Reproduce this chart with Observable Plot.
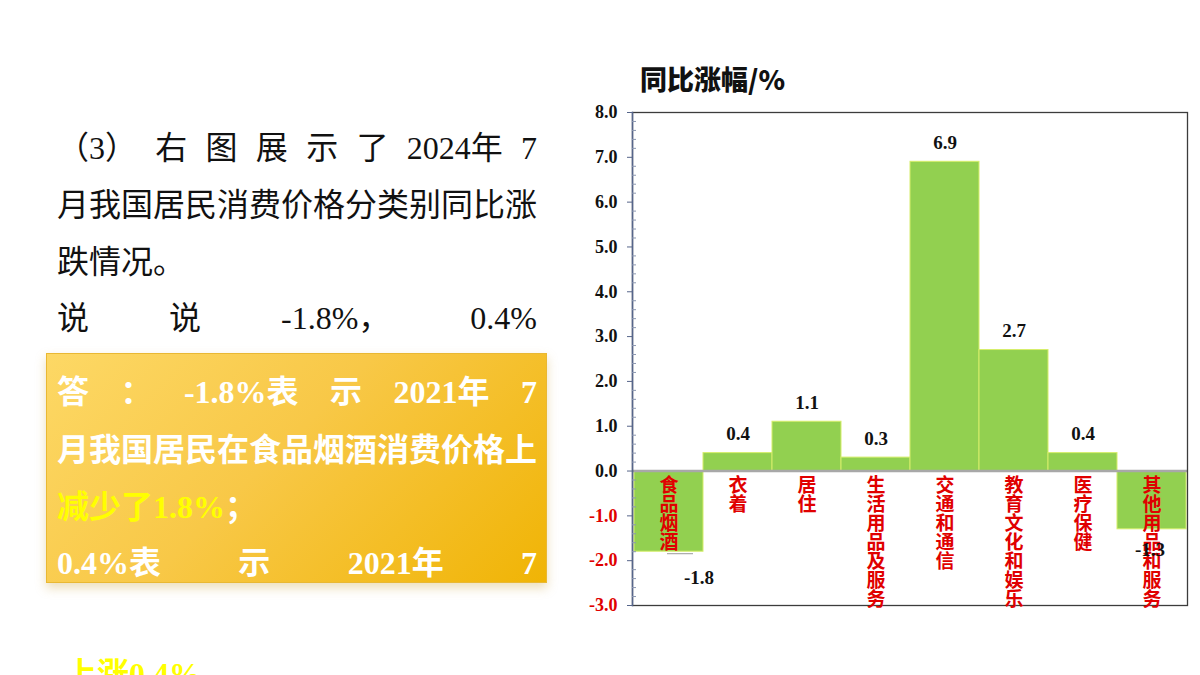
<!DOCTYPE html>
<html>
<head>
<meta charset="utf-8">
<script src="https://cdn.jsdelivr.net/npm/d3@7"></script>
<script src="https://cdn.jsdelivr.net/npm/@observablehq/plot@0.6"></script>
<style>
  html, body {
    margin: 0; padding: 0; background: #fff;
    width: 1200px; height: 675px; overflow: hidden; position: relative;
    font-family: "Liberation Serif", "Noto Sans CJK SC", serif;
  }
  .line {
    position: absolute; left: 57px; width: 480px;
    font-size: 32px; line-height: 40px; white-space: nowrap; color: #111;
  }
  .j { display: flex; justify-content: space-between; }
  .box {
    position: absolute; left: 46px; top: 353px; width: 501px; height: 230px;
    background: linear-gradient(135deg, #fdd865 0%, #f8c847 45%, #f0b405 100%);
    border: 1px solid #e9b833; box-sizing: border-box;
    box-shadow: 0 5px 10px rgba(200, 160, 60, 0.35);
  }
  .ans { color: #fff; font-weight: bold; }
  .hl { color: #ffff00; font-weight: bold; }
  #title {
    position: absolute; left: 640px; top: 61px;
    font-family: "Noto Sans CJK SC", sans-serif; font-weight: 900;
    font-size: 27px; line-height: 36px; color: #111;
  }
  #chart { position: absolute; left: 560px; top: 95px; }
</style>
</head>
<body>
  <div class="line j" style="top:128px"><span>（3）</span><span>右</span><span>图</span><span>展</span><span>示</span><span>了</span><span>2024年</span><span>7</span></div>
  <div class="line" style="top:185px">月我国居民消费价格分类别同比涨</div>
  <div class="line" style="top:242px">跌情况。</div>
  <div class="line j" style="top:298px"><span>说</span><span>说</span><span>-1.8%，</span><span>0.4%</span></div>

  <div class="box"></div>
  <div class="line j ans" style="top:372px"><span>答</span><span>：</span><span>-1.8%表</span><span>示</span><span>2021年</span><span>7</span></div>
  <div class="line ans" style="top:430px">月我国居民在食品烟酒消费价格上</div>
  <div class="line ans" style="top:487px"><span class="hl">减少了1.8%</span>；</div>
  <div class="line j ans" style="top:543px"><span>0.4%表</span><span>示</span><span>2021年</span><span>7</span></div>
  <div class="line hl" style="top:654px; left:65px">上涨0.4%</div>

  <div id="title">同比涨幅/%</div>
  <div id="chart"></div>

<script>
// CPI year-on-year change by category, July 2024 (%)
const categories = ["食品烟酒", "衣着", "居住", "生活用品及服务", "交通和通信", "教育文化和娱乐", "医疗保健", "其他用品和服务"];
const values = [-1.8, 0.4, 1.1, 0.3, 6.9, 2.7, 0.4, -1.3];
const yTicks = [-3, -2, -1, 0, 1, 2, 3, 4, 5, 6, 7, 8];

const data = categories.map((cat, i) => ({cat, value: values[i]}));
const minorTicks = d3.range(-3, 8.001, 0.2).filter(t => Math.abs(t - Math.round(t)) > 1e-6);

const serifBold = {fontFamily: "'Liberation Serif', serif", fontWeight: "bold"};

const chart = Plot.plot({
  width: 640,
  height: 540,
  marginLeft: 72,
  marginRight: 13,
  marginTop: 17,
  marginBottom: 30,
  style: {background: "transparent", overflow: "visible", fontFamily: "'Liberation Serif', serif"},
  x: {type: "band", domain: categories, padding: 0, axis: null},
  y: {domain: [-3, 8], axis: null},
  marks: [
    Plot.barY(data, {x: "cat", y: "value", fill: "#92D050", stroke: "#d6ee6a", strokeWidth: 1}),
    Plot.ruleY([0], {stroke: "#a8a8a8", strokeWidth: 2.5}),
    Plot.frame({stroke: "#3c3c3c", strokeWidth: 1.3}),
    Plot.frame({anchor: "left", stroke: "#56658a", strokeWidth: 1.5}),
    // minor ticks pointing into the plot
    Plot.axisY(minorTicks, {tickSize: 4, dx: 4, tickFormat: () => "", label: null, stroke: "#8a96b0"}),
    // major ticks and labels
    Plot.axisY(yTicks.filter(t => t >= 0), {
      tickSize: 5, tickPadding: 10, tickFormat: t => t.toFixed(1), label: null,
      fontSize: 18, ...serifBold, fill: "#111", stroke: "#56658a"
    }),
    Plot.axisY(yTicks.filter(t => t < 0), {
      tickSize: 5, tickPadding: 10, tickFormat: t => t.toFixed(1), label: null,
      fontSize: 18, ...serifBold, fill: "#e00000", stroke: "#56658a"
    }),
    // vertical category names under the zero line
    Plot.text(data, {
      x: "cat", y: () => 0, text: d => [...d.cat].join("\n"),
      lineAnchor: "top", dy: 7, fontSize: 19, lineHeight: 1.0,
      fill: "#e00000", fontFamily: "'Noto Sans CJK SC', sans-serif", fontWeight: 600
    }),
    // value labels
    Plot.text(data.filter(d => d.value >= 0), {
      x: "cat", y: "value", text: d => d.value.toFixed(1),
      dy: -19, fontSize: 19, ...serifBold, fill: "#111"
    }),
    Plot.tickY(data.filter(d => d.cat === "食品烟酒"), {
      x: "cat", y: "value", insetLeft: 33, insetRight: 10, dy: 2, stroke: "#9a9a9a", strokeWidth: 1
    }),
    Plot.text(data.filter(d => d.cat === "食品烟酒"), {
      x: "cat", y: "value", text: d => d.value.toFixed(1),
      dx: 30, dy: 26, fontSize: 19, ...serifBold, fill: "#111"
    }),
    Plot.text(data.filter(d => d.cat === "其他用品和服务"), {
      x: "cat", y: "value", text: d => d.value.toFixed(1),
      dx: -2, dy: 21, fontSize: 19, ...serifBold, fill: "#111"
    })
  ]
});

document.getElementById("chart").appendChild(chart);
</script>
</body>
</html>
